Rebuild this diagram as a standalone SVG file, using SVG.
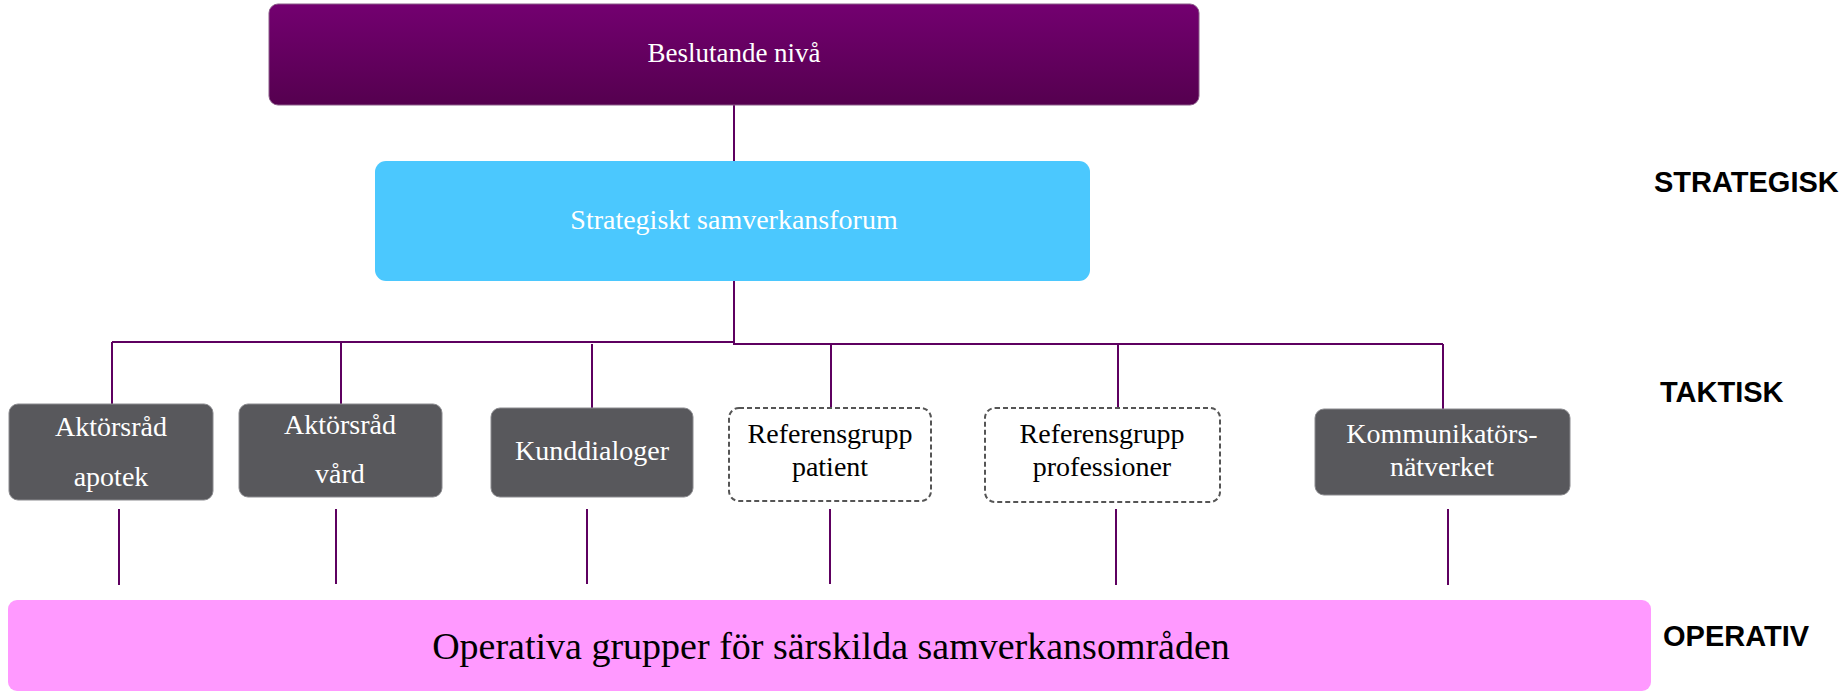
<svg xmlns="http://www.w3.org/2000/svg" width="1848" height="691" viewBox="0 0 1848 691">
<defs>
<linearGradient id="gPurple" x1="0" y1="0" x2="0" y2="1">
<stop offset="0" stop-color="#730070"/>
<stop offset="1" stop-color="#55004F"/>
</linearGradient>
<style>
.node-text{font-family:"Liberation Serif","Times New Roman",serif;text-anchor:middle}
.white{fill:#FFFFFF}
.black{fill:#000000}
.dark{fill:#58585C;stroke:#8A8A8E;stroke-width:1}
.dashed{fill:#FFFFFF;stroke:#555555;stroke-width:2;stroke-dasharray:5 3}
.conn{fill:none;stroke:#5E0060;stroke-width:2}
.level{font-family:"Liberation Sans",Arial,sans-serif;font-weight:bold;font-size:29px;fill:#000}
</style>
</defs>
<rect width="1848" height="691" fill="#FFFFFF"/>

<g id="connectors">
<path class="conn" d="M734 105V161"/>
<path class="conn" d="M734 281V343" stroke-width="2.5"/>
<path class="conn" d="M112 342H735" stroke-width="2.5"/>
<path class="conn" d="M733 344H1443" stroke-width="2.5"/>
<path class="conn" d="M112 342V404"/>
<path class="conn" d="M341 342V404"/>
<path class="conn" d="M592 344V408"/>
<path class="conn" d="M831 344V408"/>
<path class="conn" d="M1118 344V408"/>
<path class="conn" d="M1443 344V409"/>
<path class="conn" d="M119 509V585"/>
<path class="conn" d="M336 509V584"/>
<path class="conn" d="M587 509V584"/>
<path class="conn" d="M830 509V584"/>
<path class="conn" d="M1116 509V585"/>
<path class="conn" d="M1448 509V585"/>
</g>

<g id="beslutande">
<rect x="269" y="4" width="930" height="101" rx="9" fill="url(#gPurple)" stroke="#8A5A88" stroke-width="1"/>
<text class="node-text white" x="734" y="62" font-size="27">Beslutande nivå</text>
</g>

<g id="strategiskt">
<rect x="375" y="161" width="715" height="120" rx="11" fill="#4BC8FE"/>
<text class="node-text white" x="734" y="229" font-size="28">Strategiskt samverkansforum</text>
</g>

<g id="aktorsrad-apotek">
<rect class="dark" x="9" y="404" width="204" height="96" rx="9"/>
<text class="node-text white" x="111" y="436" font-size="28">Aktörsråd</text>
<text class="node-text white" x="111" y="486" font-size="28">apotek</text>
</g>

<g id="aktorsrad-vard">
<rect class="dark" x="239" y="404" width="203" height="93" rx="9"/>
<text class="node-text white" x="340" y="434" font-size="28">Aktörsråd</text>
<text class="node-text white" x="340" y="483" font-size="28">vård</text>
</g>

<g id="kunddialoger">
<rect class="dark" x="491" y="408" width="202" height="89" rx="9"/>
<text class="node-text white" x="592" y="460" font-size="28">Kunddialoger</text>
</g>

<g id="referensgrupp-patient">
<rect class="dashed" x="729" y="408" width="202" height="93" rx="10"/>
<text class="node-text black" x="830" y="443" font-size="28">Referensgrupp</text>
<text class="node-text black" x="830" y="476" font-size="28">patient</text>
</g>

<g id="referensgrupp-professioner">
<rect class="dashed" x="985" y="408" width="235" height="94" rx="10"/>
<text class="node-text black" x="1102" y="443" font-size="28">Referensgrupp</text>
<text class="node-text black" x="1102" y="476" font-size="28">professioner</text>
</g>

<g id="kommunikatorsnatverket">
<rect class="dark" x="1315" y="409" width="255" height="86" rx="9"/>
<text class="node-text white" x="1442" y="443" font-size="28">Kommunikatörs-</text>
<text class="node-text white" x="1442" y="476" font-size="28">nätverket</text>
</g>

<g id="operativa">
<rect x="8" y="600" width="1643" height="91" rx="9" fill="#FF99FF"/>
<text class="node-text black" x="831" y="659" font-size="38">Operativa grupper för särskilda samverkansområden</text>
</g>

<g id="levels">
<text class="level" x="1654" y="192">STRATEGISK</text>
<text class="level" x="1660" y="402" font-size="28.5">TAKTISK</text>
<text class="level" x="1663" y="646">OPERATIV</text>
</g>
</svg>
